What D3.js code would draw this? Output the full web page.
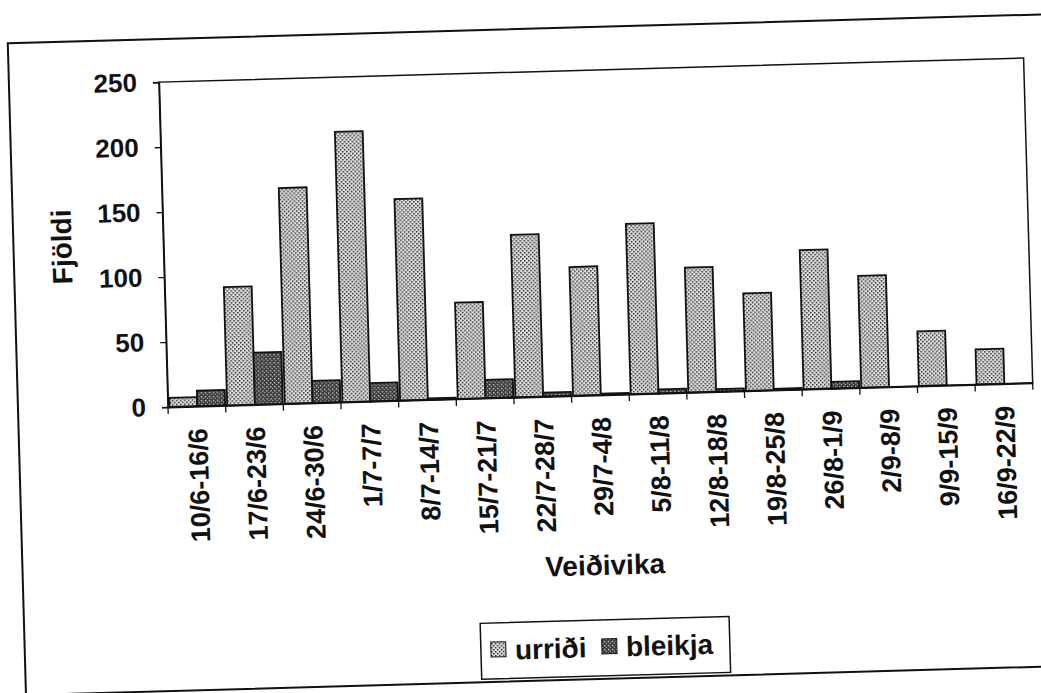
<!DOCTYPE html>
<html><head><meta charset="utf-8">
<script src="https://cdn.jsdelivr.net/npm/d3@7"></script>
<style>body{margin:0;background:#fff}svg{display:block}</style>
</head><body><svg id="c" width="1041" height="693"></svg>
<script>
const categories = ["10/6-16/6","17/6-23/6","24/6-30/6","1/7-7/7","8/7-14/7","15/7-21/7","22/7-28/7","29/7-4/8","5/8-11/8","12/8-18/8","19/8-25/8","26/8-1/9","2/9-8/9","9/9-15/9","16/9-22/9"];
const urridi  = [7, 91, 166, 208, 155, 74, 125, 99, 131, 96, 75, 107, 86, 42, 27];
const bleikja = [12, 40, 17, 14, 1, 14, 3, 1, 3, 2, 1, 5, 0, 0, 0];
const seriesNames = ["urriði","bleikja"];
const yTicks = [0, 50, 100, 150, 200, 250];
const xTitle = "Veiðivika";
const yTitle = "Fjöldi";

const FONT = "Arial, 'Liberation Sans', sans-serif";
const svg = d3.select("#c");
const defs = svg.append("defs");

// patterns
const p1 = defs.append("pattern").attr("id","pU").attr("patternUnits","userSpaceOnUse").attr("width",4).attr("height",4);
p1.append("rect").attr("width",4).attr("height",4).attr("fill","#e2e2e2");
p1.append("rect").attr("x",0).attr("y",0).attr("width",1.5).attr("height",1.5).attr("fill","#222");
p1.append("rect").attr("x",2).attr("y",2).attr("width",1.5).attr("height",1.5).attr("fill","#222");
const p2 = defs.append("pattern").attr("id","pB").attr("patternUnits","userSpaceOnUse").attr("width",4).attr("height",4);
p2.append("rect").attr("width",4).attr("height",4).attr("fill","#3c3c3c");
p2.append("rect").attr("x",1).attr("y",1).attr("width",1.4).attr("height",1.4).attr("fill","#d0d0d0");
p2.append("rect").attr("x",3).attr("y",3).attr("width",1.4).attr("height",1.4).attr("fill","#d0d0d0");
const fills = {"urriði":"url(#pU)","bleikja":"url(#pB)"};

const g = svg.append("g").attr("transform","rotate(-1.6,168,407)");

// outer frame
g.append("rect").attr("x",18).attr("y",39).attr("width",1080).attr("height",652)
 .attr("fill","none").attr("stroke","#111").attr("stroke-width",2);

const m = {l:168, r:1033, t:82, b:407};
const x = d3.scaleBand().domain(categories).range([m.l, m.r]).padding(0);
const xs = d3.scaleBand().domain(seriesNames).range([1.5, x.bandwidth()-0.5]).padding(0);
const y = d3.scaleLinear().domain([0, 250]).range([m.b, m.t]);

const rows = categories.map((c,i)=>({cat:c, vals:[{s:"urriði",v:urridi[i]},{s:"bleikja",v:bleikja[i]}]}));

// plot border
g.append("rect").attr("x",m.l).attr("y",m.t).attr("width",m.r-m.l).attr("height",m.b-m.t)
 .attr("fill","none").attr("stroke","#111").attr("stroke-width",1.5);

// bars
const cg = g.append("g").selectAll("g").data(rows).join("g")
  .attr("transform", d=>`translate(${x(d.cat)},0)`);
cg.selectAll("rect").data(d=>d.vals).join("rect")
  .attr("x", d=>xs(d.s)).attr("width", xs.bandwidth())
  .attr("y", d=>y(d.v)).attr("height", d=>y(0)-y(d.v))
  .attr("fill", d=>fills[d.s]).attr("stroke","#111").attr("stroke-width",1.8);

// y axis
const ya = g.append("g").attr("transform",`translate(${m.l},0)`)
  .call(d3.axisLeft(y).tickValues(yTicks).tickSize(6).tickPadding(16));
ya.select(".domain").attr("stroke","#111").attr("stroke-width",1.5);
ya.selectAll(".tick line").attr("stroke","#111").attr("stroke-width",1.3);
ya.selectAll("text").attr("font-family",FONT).attr("font-size",26).attr("font-weight","bold").attr("fill","#111");

// x axis
const xa = g.append("g").attr("transform",`translate(0,${m.b})`)
  .call(d3.axisBottom(x).tickSize(0));
xa.select(".domain").attr("stroke","#111").attr("stroke-width",1.8);
xa.selectAll("text").attr("transform","rotate(-90)").attr("x",-22).attr("y",0).attr("dy","0.36em")
  .attr("text-anchor","end").attr("font-family",FONT).attr("font-size",27).attr("font-weight","bold").attr("fill","#111");
// boundary tick marks
const bounds = categories.map(c=>x(c)).concat([m.r]);
g.append("g").selectAll("line").data(bounds).join("line")
  .attr("x1",d=>d).attr("x2",d=>d).attr("y1",m.b).attr("y2",m.b+7)
  .attr("stroke","#111").attr("stroke-width",1.3);

// titles
g.append("text").attr("x",(m.l+m.r)/2).attr("y",587).attr("text-anchor","middle")
  .attr("font-family",FONT).attr("font-size",28).attr("font-weight","bold").attr("fill","#111").text(xTitle);
g.append("text").attr("transform","translate(76,244) rotate(-90)").attr("text-anchor","middle")
  .attr("font-family",FONT).attr("font-size",28).attr("font-weight","bold").attr("fill","#111").text(yTitle);

// legend
const lg = g.append("g");
lg.append("rect").attr("x",474).attr("y",632).attr("width",249).attr("height",56)
  .attr("fill","#fff").attr("stroke","#111").attr("stroke-width",1.5);
const lx = {"urriði":[484,508],"bleikja":[595,619]};
seriesNames.forEach(s=>{
  lg.append("rect").attr("x",lx[s][0]).attr("y",651).attr("width",15).attr("height",15)
    .attr("fill",fills[s]).attr("stroke","#111").attr("stroke-width",1);
  lg.append("text").attr("x",lx[s][1]).attr("y",669).attr("font-family",FONT).attr("font-size",28)
    .attr("font-weight","bold").attr("fill","#111").text(s);
});
</script></body></html>
